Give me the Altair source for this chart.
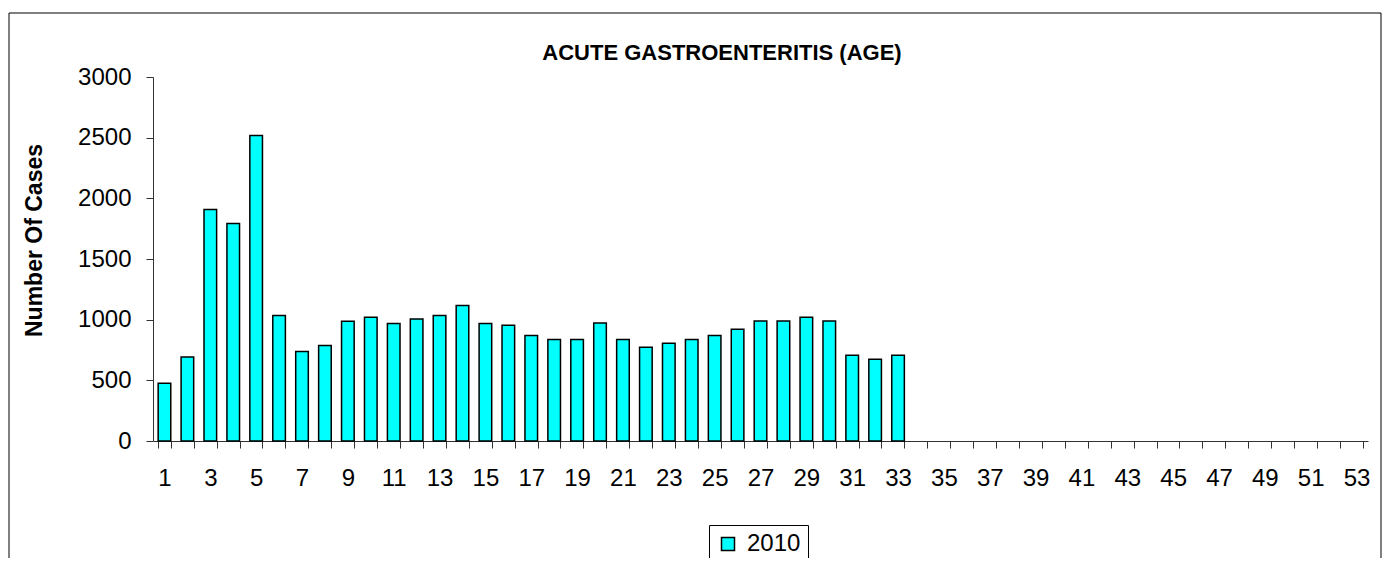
import altair as alt
import pandas as pd

# ---- data ----
weeks = list(range(1, 54))
cases_2010 = [475, 692, 1908, 1793, 2517, 1035, 738, 788, 986, 1019,
              969, 1005, 1035, 1117, 969, 955, 870, 837, 837, 972,
              837, 772, 805, 837, 870, 922, 988, 988, 1019, 988,
              706, 673, 706]
series = ["2010"]
y_ticks = [0, 500, 1000, 1500, 2000, 2500, 3000]
title_text = "ACUTE GASTROENTERITIS (AGE)"
y_title = "Number Of Cases"

df = pd.DataFrame({
    "week": weeks[:len(cases_2010)],
    "cases": cases_2010,
    "series": series[0],
})

FONT = "Liberation Sans"
W, H = 1215, 364

border = alt.Chart(pd.DataFrame({"b": [0]})).mark_rect(
    fillOpacity=0, stroke="black", strokeWidth=1
).encode(
    x=alt.value(-144), x2=alt.value(1228),
    y=alt.value(-64), y2=alt.value(560),
)

bars = alt.Chart(df).mark_bar(stroke="black", strokeWidth=1.5).encode(
    x=alt.X(
        "week:O",
        scale=alt.Scale(domain=weeks, paddingInner=0.45, paddingOuter=0.225),
        axis=alt.Axis(
            title=None, labelAngle=0, tickBand="extent", tickSize=7,
            labelPadding=18, labelFontSize=24, labelFont=FONT,
            labelColor="black", labelOverlap=False,
            labelExpr="datum.value % 2 == 1 ? datum.label : ''",
            domainColor="#333", tickColor="#333", grid=False,
        ),
    ),
    y=alt.Y(
        "cases:Q",
        scale=alt.Scale(domain=[0, 3000], nice=False),
        axis=alt.Axis(
            values=y_ticks, format="d", title=y_title, grid=False, tickSize=7,
            labelPadding=15, labelFontSize=24, labelFont=FONT,
            labelColor="black", domainColor="#333", tickColor="#333",
            titleFont=FONT, titleFontSize=23, titleFontWeight="bold",
            titleColor="black", titleAngle=270, titleX=-119, titleY=163,
            titleAlign="center", titleBaseline="middle",
        ),
    ),
    color=alt.Color(
        "series:N",
        scale=alt.Scale(domain=series, range=["#00FFFF"]),
        legend=alt.Legend(
            title=None, orient="none", legendX=556, legendY=448,
            symbolType="square", symbolSize=169, symbolStrokeColor="black",
            symbolStrokeWidth=1.5, labelFontSize=24, labelFont=FONT,
            labelColor="black", labelOffset=7, strokeColor="black",
            padding=7,
        ),
    ),
)

title = alt.Chart(pd.DataFrame({"t": [title_text]})).mark_text(
    font=FONT, fontSize=22, fontWeight="bold",
    align="center", baseline="alphabetic", color="black",
).encode(text="t:N", x=alt.value(569), y=alt.value(-17))

chart = alt.layer(border, bars, title).properties(
    width=W, height=H,
    padding={"left": 145, "top": 69, "right": 14, "bottom": 117},
    autosize=alt.AutoSizeParams(type="none"),
    background="white",
).configure_view(stroke=None)

chart.save("out.html", embed_options={"renderer": "svg", "actions": False})
